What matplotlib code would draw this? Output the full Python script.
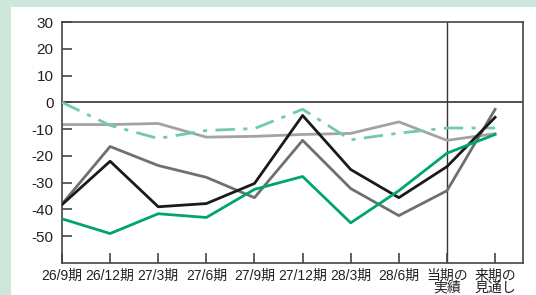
import matplotlib
matplotlib.use("Agg")
import matplotlib.pyplot as plt
from matplotlib.patches import Rectangle

plt.rcParams["font.family"] = ["Liberation Sans", "Noto Sans CJK JP", "DejaVu Sans"]

# ---- data ----
periods = ["26/9期", "26/12期", "27/3期", "27/6期", "27/9期", "27/12期",
           "28/3期", "28/6期", "当期の\n実績", "来期の\n見通し"]
dashdot_green = [0, -8.6, -13.5, -10.5, -9.8, -2.6, -14, -11.5, -9.6, -9.6]
light_gray = [-8.3, -8.3, -7.9, -13, -12.7, -12, -11.6, -7.3, -14.2, -11.7]
dark_gray = [-38, -16.5, -23.6, -28, -35.6, -14.2, -32.2, -42.3, -33, -2.6]
black = [-38.2, -22, -39, -37.8, -30.3, -4.9, -25.1, -35.6, -24, -5.6]
green = [-43.5, -49, -41.6, -43, -32.5, -27.7, -45, -33, -19, -12]
y_ticks = [30, 20, 10, 0, -10, -20, -30, -40, -50]

W, H = 536, 295
fig = plt.figure(figsize=(W / 100, H / 100), dpi=100)
fig.patch.set_facecolor("#cde7db")
fig.patches.append(Rectangle((11 / W, 0), 1, 1 - 7 / H, transform=fig.transFigure,
                             facecolor="white", edgecolor="none", zorder=-10))

ax = fig.add_axes([62 / W, 1 - 263 / H, (523 - 62) / W, (263 - 22) / H])
ax.set_zorder(5)
x = list(range(len(periods)))

ax.axhline(0, color="#333333", lw=1.2, zorder=1)
ax.axvline(8, color="#333333", lw=1.0, zorder=1)

ax.plot(x, light_gray, color="#a3a3a5", lw=2, zorder=2)
ax.plot(x, dashdot_green, color="#72cba6", lw=2, ls=(0, (7, 3, 1.5, 3)), zorder=3)
ax.plot(x, dark_gray, color="#6f6f70", lw=2, zorder=3)
ax.plot(x, black, color="#1a1a1a", lw=2, zorder=4)
ax.plot(x, green, color="#00a470", lw=2, zorder=4)

ax.set_xlim(0, 9.58)
ax.set_ylim(-60, 30)
ax.set_yticks(y_ticks)
ax.set_yticklabels([str(v) for v in y_ticks], fontsize=11)
ax.set_xticks(x)
ax.set_xticklabels(periods, linespacing=0.85, fontsize=10)

for s in ax.spines.values():
    s.set_color("#444444")
    s.set_linewidth(1.2)

ax.tick_params(axis="both", direction="in", length=7, width=1.2, color="#444444",
               colors="#222222")
ax.tick_params(axis="x", pad=4)
ax.tick_params(axis="y", pad=6)

fig.savefig("out.png", dpi=100, facecolor=fig.get_facecolor())
